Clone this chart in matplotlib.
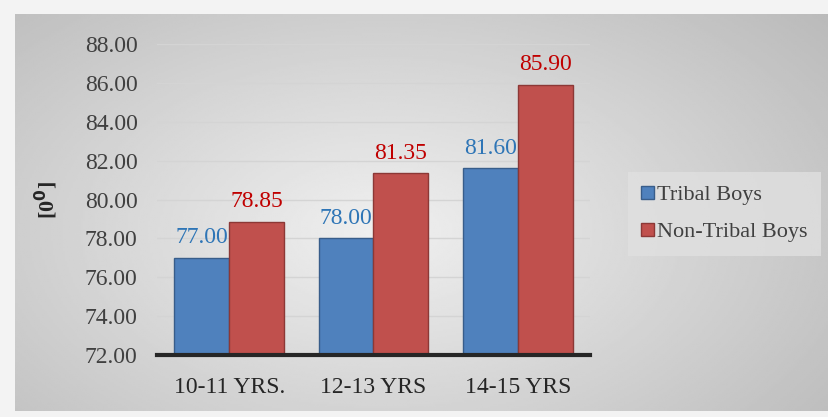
import matplotlib.pyplot as plt
import numpy as np

categories = ["10-11 YRS.", "12-13 YRS", "14-15 YRS"]
tribal = [77.00, 78.00, 81.60]
non_tribal = [78.85, 81.35, 85.90]
series_names = ["Tribal Boys", "Non-Tribal Boys"]
yticks = [72, 74, 76, 78, 80, 82, 84, 86, 88]

plt.rcParams["font.family"] = ["Liberation Serif", "DejaVu Serif"]

W, H = 829, 417
fig = plt.figure(figsize=(W / 100, H / 100), dpi=100)
fig.patch.set_facecolor("#f3f3f3")

# grey panel with a soft radial shading
bg = fig.add_axes([15 / W, (H - 411) / H, (W - 15) / W, (411 - 14) / H])
yy, xx = np.mgrid[0:1:200j, 0:1:400j]
r = np.sqrt(((xx - 0.45) / 0.75) ** 2 + ((yy - 0.55) / 0.9) ** 2)
shade = np.clip(0.94 - 0.22 * r, 0.72, 0.94)
bg.imshow(shade, cmap="gray", vmin=0, vmax=1, aspect="auto", extent=[0, 1, 0, 1])
bg.axis("off")

ax = fig.add_axes([157 / W, (H - 355) / H, (590 - 157) / W, (355 - 44) / H])
ax.patch.set_alpha(0)

x = np.arange(len(categories))
w = 0.38
b1 = ax.bar(x - w / 2, np.array(tribal) - 72, w, bottom=72, color="#4f81bd",
            edgecolor="#385d8a", linewidth=1, label=series_names[0], zorder=3)
b2 = ax.bar(x + w / 2, np.array(non_tribal) - 72, w, bottom=72, color="#c0504d",
            edgecolor="#8c3836", linewidth=1, label=series_names[1], zorder=3)

for xi, v in zip(x - w / 2, tribal):
    ax.text(xi, v + 0.5, f"{v:.2f}", ha="center", va="bottom", fontsize=17,
            color="#2e75b6", clip_on=False)
for xi, v in zip(x + w / 2, non_tribal):
    ax.text(xi, v + 0.5, f"{v:.2f}", ha="center", va="bottom", fontsize=17,
            color="#c00000", clip_on=False)

ax.set_xlim(-0.5, 2.5)
ax.set_ylim(72, 88)
ax.set_yticks(yticks)
ax.set_yticklabels([f"{t:.2f}" for t in yticks], fontsize=17, color="#404040")
ax.set_xticks(x)
ax.set_xticklabels(categories, fontsize=17, color="#262626")
ax.tick_params(axis="y", length=0, pad=14)
ax.tick_params(axis="x", length=0, pad=16)
ax.grid(axis="y", color="#d4d4d4", linewidth=1, zorder=0)
for s in ["top", "right", "left"]:
    ax.spines[s].set_visible(False)
ax.spines["bottom"].set_linewidth(3)
ax.spines["bottom"].set_color("#262626")
ax.spines["bottom"].set_zorder(4)

fig.text(46 / W, 1 - 200 / H, r"[0$^{\mathbf{0}}$]", rotation=90, ha="center",
         va="center", fontsize=16, fontweight="bold", color="#262626")

leg = ax.legend(loc="center left", bbox_to_anchor=(617 / W, 1 - 214 / H),
                bbox_transform=fig.transFigure, fontsize=16, frameon=True,
                handlelength=0.55, handleheight=0.55, handletextpad=0.15,
                labelspacing=0.8, borderpad=0.6, fancybox=False)
leg.get_frame().set_facecolor("#e0e0e0")
leg.get_frame().set_edgecolor("none")
for t in leg.get_texts():
    t.set_color("#404040")

fig.savefig("out.png", dpi=100)
